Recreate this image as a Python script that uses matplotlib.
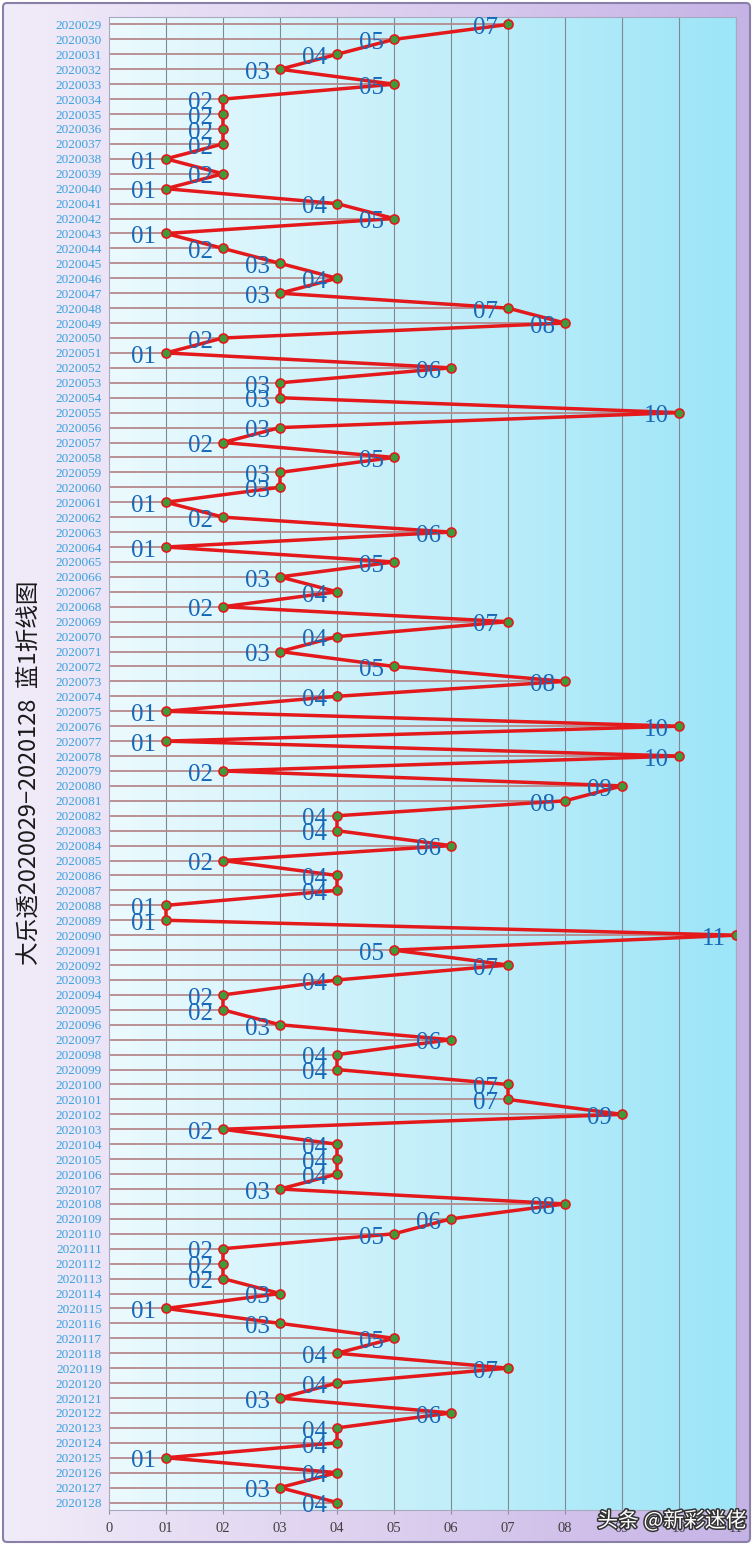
import numpy as np
import matplotlib.pyplot as plt
import matplotlib.patheffects as pe
from matplotlib.colors import LinearSegmentedColormap
from matplotlib.patches import FancyBboxPatch

# 大乐透 蓝1 2020029-2020128
periods = [str(2020029 + i) for i in range(100)]
blue1 = [7, 5, 4, 3, 5, 2, 2, 2, 2, 1,
         2, 1, 4, 5, 1, 2, 3, 4, 3, 7,
         8, 2, 1, 6, 3, 3, 10, 3, 2, 5,
         3, 3, 1, 2, 6, 1, 5, 3, 4, 2,
         7, 4, 3, 5, 8, 4, 1, 10, 1, 10,
         2, 9, 8, 4, 4, 6, 2, 4, 4, 1,
         1, 11, 5, 7, 4, 2, 2, 3, 6, 4,
         4, 7, 7, 9, 2, 4, 4, 4, 3, 8,
         6, 5, 2, 2, 2, 3, 1, 3, 5, 4,
         7, 4, 3, 6, 4, 4, 1, 4, 3, 4]
xticks = list(range(12))
xlabels = ["0"] + ["%02d" % k for k in range(1, 12)]

W, H = 755, 1547
fig = plt.figure(figsize=(W / 100, H / 100), dpi=100)

# outer frame with gradient
bg = fig.add_axes([0, 0, 1, 1])
bg.set_xlim(0, W)
bg.set_ylim(H, 0)
bg.axis("off")
frame_cmap = LinearSegmentedColormap.from_list("frame", ["#f1ecf9", "#ddd0ef", "#c6b3e6"])
grad = np.linspace(0, 1, 256).reshape(1, -1)
im = bg.imshow(grad, cmap=frame_cmap, extent=(3, 750, 1542, 3), aspect="auto")
box = FancyBboxPatch((3, 3), 747, 1539, boxstyle="round,pad=0,rounding_size=4",
                     fc="none", ec="#8a7fa8", lw=1.5)
bg.add_patch(box)
im.set_clip_path(box)

# title (vertical)
fig.text(30 / W, 1 - 773 / H, "大乐透2020029−2020128  蓝1折线图", rotation=90,
         ha="center", va="center", fontsize=17, color="#1a1a1a",
         family=["Noto Sans CJK SC", "DejaVu Sans"])

ax = fig.add_axes([109 / W, 1 - 1510 / H, (736 - 109) / W, (1510 - 17) / H])
n = len(blue1)
idx = np.arange(n)

plot_cmap = LinearSegmentedColormap.from_list("plot", ["#ecfafe", "#c4effa", "#9de5f8"])
ax.imshow(grad, cmap=plot_cmap, extent=(0, 11, n - 0.5, -0.5), aspect="auto", zorder=0)

for k in range(1, 12):
    ax.axvline(k, color="#7f8a90", lw=0.8, zorder=1)
ax.hlines(idx, 0, blue1, color="#b58a8c", lw=1.3, zorder=1.5)

ax.plot(blue1, idx, color="#e3191b", lw=2.5, marker="o", ms=6.5,
        mfc="#3f9a3a", mec="#e3191b", mew=1.2, zorder=3)

for i, v in enumerate(blue1):
    ax.text(v - 0.17, i + 0.25, "%02d" % v, ha="right", va="center",
            fontsize=18, color="#1768b8", family="Liberation Serif", zorder=4)

ax.set_xlim(0, 11)
ax.set_ylim(n - 0.5, -0.5)
ax.set_yticks(idx)
ax.set_yticklabels(periods, color="#3aa2de", fontsize=9.5, family="Liberation Serif")
ax.set_xticks(xticks)
ax.set_xticklabels(xlabels, color="#404040", fontsize=10.5, family="Liberation Serif")
ax.tick_params(axis="y", length=0, pad=5)
ax.tick_params(axis="x", length=3, color="#909090", pad=6)
for s in ax.spines.values():
    s.set_color("#a8a8c0")
    s.set_linewidth(0.8)

# watermark
fig.text(672 / W, 1 - 1521 / H, "头条 @新彩迷佬", ha="center", va="center",
         fontsize=15, color="white", family=["Noto Sans CJK SC", "DejaVu Sans"],
         path_effects=[pe.withStroke(linewidth=2.2, foreground="#333333")])

fig.savefig("out.png", dpi=100)
